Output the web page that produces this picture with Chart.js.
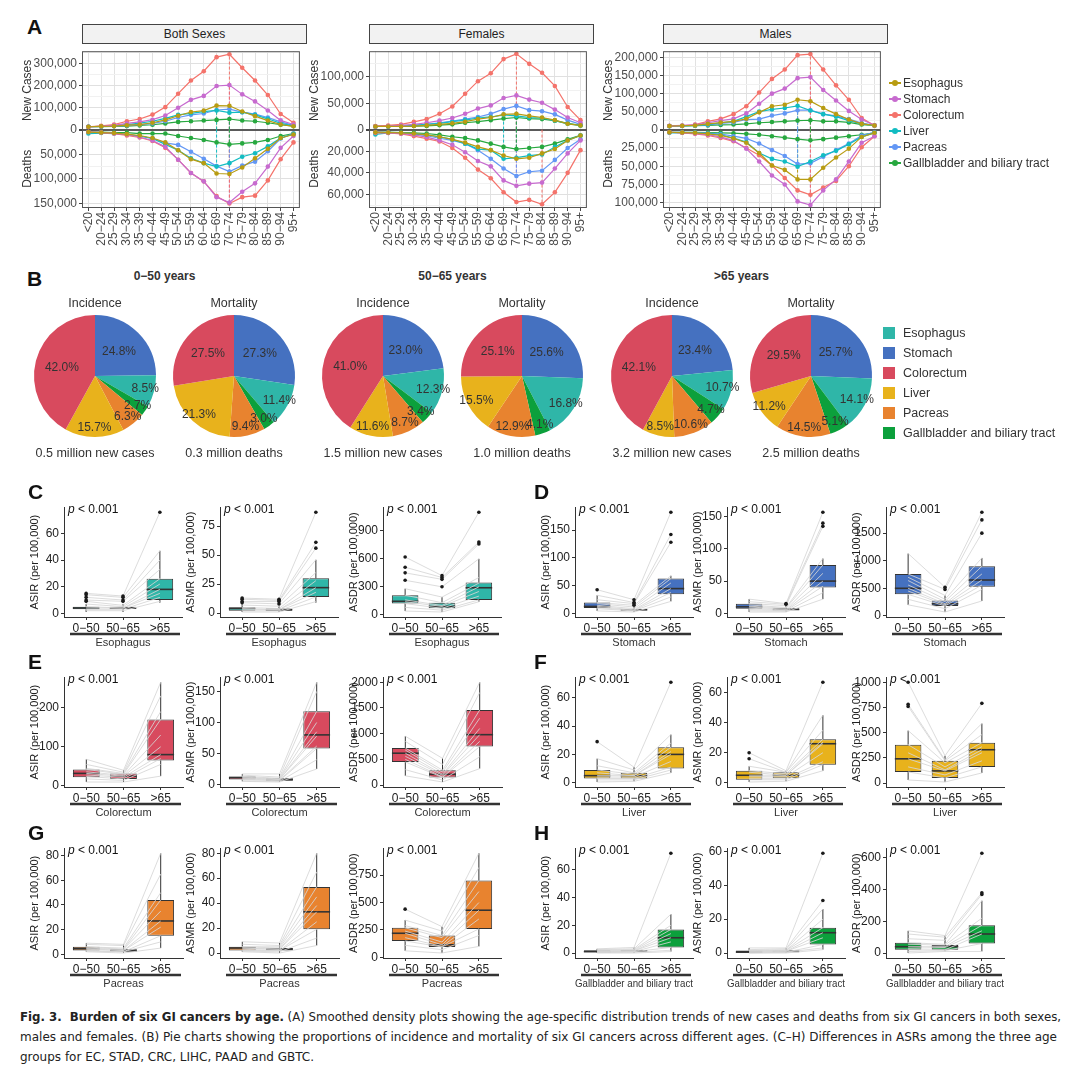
<!DOCTYPE html>
<html><head><meta charset="utf-8">
<script src="https://cdn.jsdelivr.net/npm/chart.js@4.4.1/dist/chart.umd.min.js"></script>
<style>
body{margin:0;background:#fff;font-family:'Liberation Sans',Arial,sans-serif;color:#222;}
#page{position:relative;width:1080px;height:1075px;overflow:hidden;background:#fff;}
.abs{position:absolute;white-space:nowrap;}
canvas{position:absolute;}
.lab{position:absolute;font-weight:bold;font-size:21px;line-height:21px;color:#111;}
.strip{position:absolute;box-sizing:border-box;border:1px solid #444;background:#f2f2f2;font-size:12px;text-align:center;line-height:18px;color:#222;}
.ctr{position:absolute;text-align:center;width:200px;font-size:12px;line-height:14px;color:#333;white-space:nowrap;}
.cap{position:absolute;left:20px;white-space:nowrap;font-family:'Liberation Sans Narrow','DejaVu Sans Condensed','Liberation Sans',sans-serif;font-stretch:condensed;font-size:13px;line-height:19px;color:#222;transform-origin:0 0;}
</style></head>
<body><div id="page"></div>
<script>
// ---------------- DATA ----------------
const ageGroups = ['<20','20−24','25−29','30−34','35−39','40−44','45−49','50−54','55−59','60−64','65−69','70−74','75−79','80−84','85−89','90−94','95+'];
const cancers = ['Esophagus','Stomach','Colorectum','Liver','Pacreas','Gallbladder and biliary tract'];
const lineColors = ['#B89C12','#C76BCF','#F4736B','#12BCC2','#6397F5','#27A83F'];
const fillColors = ['#2FB6A8','#4571C0','#D84A5E','#E8B21C','#E8832F','#0CA03C'];

// Panel A (thousands), order = cancers
const bothNewCases = [
 [13,15,16,20,23,31,44,63,80,86,109,108,82,61,41,23,15],
 [13,15,19,28,35,45,64,99,135,153,198,202,160,128,87,42,23],
 [12,17,23,38,48,68,102,163,223,265,329,342,281,223,157,71,31],
 [13,15,17,23,29,38,51,67,74,82,87,77,79,67,49,28,17],
 [13,15,16,19,23,28,38,55,67,73,89,93,79,70,55,35,19],
 [13,13,15,16,19,22,28,35,38,41,44,48,41,38,31,22,16]];
const bothDeaths = [
 [5,6,7,9,12,17,26,42,60,68,89,90,77,58,39,17,10],
 [5,6,8,10,15,22,35,61,88,105,137,148,126,109,75,37,13],
 [5,6,8,12,16,23,37,61,88,105,135,150,137,134,103,60,26],
 [8,7,8,10,13,18,30,42,58,68,75,68,55,48,34,17,9],
 [5,6,7,10,13,18,27,31,45,59,74,85,73,65,44,18,8],
 [5,5,6,6,8,8,8,13,17,21,26,30,28,26,21,13,8]];
const femaleNewCases = [
 [6,6,6,6.7,8,10,12,15,20,23,29,30,26,23,18,11,8],
 [6,6.7,8,10,13,17,22,30,40,46,60,65,57,51,38,23,13],
 [6.7,7.9,9.8,14.6,20,30,44,68,92,107,134,144,125,108,83,43,18],
 [6,6,6.7,8,10,12,15,18,22,24,28,26,23,22,17,11,8],
 [6,6,6.7,8,10,13,16,20,24,30,39,45,37,35,29,18,10],
 [6,6,6,6.7,7,8.5,10,13,15,18,21,23,21,20,17,12,8]];
const femaleDeaths = [
 [2.4,2.7,3,3.6,4.8,6.6,9,12,16,19,24,27,26,22,18,10,5.4],
 [2.4,3,3.6,4.8,6.9,10,14,21,29,34,47,52,50,49,36,22,10],
 [3,3,3.9,6,8.4,11,17,26,37,45,58,67,65,69,58,40,19],
 [4.5,3,3.3,3.9,4.8,6.6,9,13,18,19,27,26,24,23,16,10,5.4],
 [2.4,2.7,3.3,4.2,5.7,8,10,13,19,27,36,43,39,38,28,17,9],
 [2.4,2.4,2.7,3,3.6,4.8,6.6,7.8,10,13,16,18,17,16,13,9,5.4]];
const maleNewCases = [
 [10,10.7,11.5,16,19.5,23,30,48,65,69,83,79,60,43,28,16,11.5],
 [10.7,11.5,13,19,25,30,45,72,100,114,143,146,110,81,52,28,12],
 [9.8,10.7,14,23,30,43,65,103,141,167,207,210,167,123,83,32,11.5],
 [9,10,11.5,14,19,23,36,50,56,60,66,53,43,36,25,16,11.5],
 [10,10.7,11.5,13,17,20,28,29,39,45,54,54,43,38,29,18,11.5],
 [10,10,10.7,11.5,13,14,16,19,21,23,25,26,23,23,20,14,11.5]];
const maleDeaths = [
 [3.6,4,4.4,5.8,8,12,18,32,49,55,68,68,52,38,26,10,4.4],
 [3.6,4.4,5.3,7,10,15,26,43.5,62.6,75,98,103,83,68,43.5,18,9],
 [3.6,4.4,5.8,8,11.5,16,25,35,49,66,83,89,79,70,50,24,9],
 [4.4,4,4.4,5.3,7,11.5,17,32,40,43.5,50.6,43.5,35,29,20,10,4.4],
 [3.6,3.6,4,4.9,6,9,12,19,28,36,47,46,37,28,19,8,3.6],
 [3.6,3.6,3.6,4,4.4,4.9,5.8,7,9,11,13,14.6,13,11,9,7,4.4]];

// Panel B (percent), order = cancers
const pieGroups = ['0−50 years','50−65 years','>65 years'];
const incidenceShares = [[8.5,24.8,42.0,15.7,6.3,2.7],[12.3,23.0,41.0,11.6,8.7,3.4],[10.7,23.4,42.1,8.5,10.6,4.7]];
const mortalityShares = [[11.4,27.3,27.5,21.3,9.4,3.0],[16.8,25.6,25.1,15.5,12.9,4.1],[14.1,25.7,29.5,11.2,14.5,5.1]];
const incidenceTotals = ['0.5 million new cases','1.5 million new cases','3.2 million new cases'];
const mortalityTotals = ['0.3 million deaths','1.0 million deaths','2.5 million deaths'];
const pieSliceOrder = [1,0,5,4,3,2]; // clockwise from 12 o'clock

// Panels C-H: measures, box stats [min,q1,median,q3,max] per age group
const ageBands = ['0−50','50−65','>65'];
const measures = ['ASIR','ASMR','ASDR'];
const esophagusBox = [
 [[1,3,4,5,7],[1,3.5,4,5,7],[8,10,18,26,47]],
 [[1,2,4,5,8],[1,2,3,4,6],[9,14,22,30,46]],
 [[40,120,145,210,280],[30,70,90,130,190],[140,160,290,345,600]]];
const esophagusOutliers = [[[9,10,12,14,15],[9,10,12,13],[76]],[[9,10,12,13],[8,10,11,12],[56,61,87]],[[370,450,510,620],[300,380,400,420],[760,780,1100]]];
const esophagusPairs = [
 [[15,13,76],[14,12,47],[12,10,40],[10,9,33],[9,6,26],[7,5,22],[5,4,18],[4,4,15],[3,3,12],[2,2,9]],
 [[13,12,87],[12,11,61],[10,10,56],[9,8,46],[7,6,35],[5,4,28],[4,3,22],[3,3,18],[2,2,14],[1,1,10]],
 [[620,420,1100],[510,400,780],[450,380,760],[370,300,600],[280,190,400],[210,130,340],[160,100,300],[140,90,250],[120,70,200],[80,50,160],[40,30,140]]];
const esophagusSteps = [20,25,300];

const stomachBox = [
 [[5,10,13,20,33],[3,6,7,8,12],[22,35,45,63,68]],
 [[2,7,10,15,22],[2,5,6,8,12],[22,40,50,75,85]],
 [[200,390,500,760,1130],[70,180,220,280,370],[270,530,650,900,1050]]];
const stomachOutliers = [[[43],[15,18,20,25],[128,142,182]],[[],[14,15],[135,140,157]],[[],[480,520],[1500,1740,1880]]];
const stomachPairs = [
 [[43,25,182],[33,20,142],[25,18,128],[20,15,68],[18,12,63],[15,9,55],[13,7,45],[11,6,38],[9,5,30],[5,3,22]],
 [[22,15,157],[18,14,140],[15,12,135],[13,9,85],[11,8,75],[10,6,62],[8,5,50],[6,4,42],[4,3,32],[2,2,22]],
 [[1130,520,1880],[760,480,1740],[700,370,1500],[640,300,1050],[560,260,900],[500,220,760],[450,200,650],[390,180,560],[300,130,480],[200,70,270]]];
const stomachSteps = [50,50,500];

const colorectumBox = [
 [[10,22,32,42,68],[10,18,25,32,40],[25,65,80,170,265]],
 [[5,8,11,13,17],[4,6,8,10,17],[25,58,80,118,165]],
 [[180,450,620,720,950],[60,150,210,290,520],[320,750,980,1460,2000]]];
const colorectumOutliers = [[[],[],[]],[[],[],[]],[[],[],[]]];
const colorectumPairs = [
 [[68,40,265],[55,35,230],[45,32,190],[42,30,170],[36,27,130],[32,25,100],[28,22,80],[24,18,70],[18,14,55],[10,10,25]],
 [[17,17,165],[15,12,150],[13,10,118],[12,9,100],[11,8,85],[10,8,78],[9,7,62],[8,6,58],[6,5,40],[5,4,25]],
 [[950,520,2000],[850,400,1800],[720,290,1460],[680,250,1300],[620,210,1100],[560,190,980],[500,160,850],[450,150,750],[300,100,550],[180,60,320]]];
const colorectumSteps = [100,50,500];

const liverBox = [
 [[0.5,3,5,9,17],[1,3,5,7,11],[7,10,20,25,34]],
 [[0.5,2,5,8,11],[1,3,5,7,8],[8,12,26,29,45]],
 [[30,110,240,380,520],[10,50,120,220,270],[100,160,330,400,590]]];
const liverOutliers = [[[29],[],[71]],[[16,20],[],[67]],[[760,780,1000],[],[790]]];
const liverPairs = [
 [[29,11,71],[17,9,34],[12,7,28],[9,6,25],[7,5,22],[5,5,20],[4,4,15],[3,3,11],[2,2,9],[0.5,1,7]],
 [[20,8,67],[16,7,45],[11,7,35],[8,6,29],[7,5,27],[5,5,26],[4,4,20],[3,3,14],[2,2,12],[0.5,1,8]],
 [[1000,270,790],[780,230,590],[760,220,480],[520,200,400],[380,160,360],[300,130,330],[240,120,300],[160,80,220],[110,50,160],[30,10,100]]];
const liverSteps = [20,20,250];

const pancreasBox = [
 [[2,3,4.5,6,9],[1,2,3,4,8],[5,15,27,44,82]],
 [[1,2,4,5,9],[0,2,3,4,8],[6,19,33,53,80]],
 [[60,150,220,270,340],[40,95,115,200,280],[100,260,430,700,950]]];
const pancreasOutliers = [[[],[],[]],[[],[],[]],[[440],[],[]]];
const pancreasPairs = [
 [[9,8,82],[8,7,65],[6,5,50],[6,4,44],[5,4,35],[4.5,3,27],[4,3,22],[3,2,15],[2.5,2,10],[2,1,5]],
 [[9,8,80],[7,6,65],[5,5,53],[5,4,45],[4,3,38],[4,3,33],[3,2,25],[2,2,19],[1.5,1,12],[1,0,6]],
 [[440,280,950],[340,240,820],[290,200,700],[270,180,600],[240,140,500],[220,115,430],[180,100,350],[150,95,260],[110,70,200],[60,40,100]]];
const pancreasSteps = [20,20,250];

const gallbladderBox = [
 [[0,0.5,1,2,3],[0,1,1.5,2,4],[1,4,11,17,28]],
 [[0,0,0.5,1.5,3],[0,0.5,1,1.5,3],[2,5,12,15,26]],
 [[0,20,40,65,140],[10,20,40,50,110],[10,60,120,175,330]]];
const gallbladderOutliers = [[[],[],[72]],[[],[],[31,59]],[[],[],[370,380,630]]];
const gallbladderPairs = [
 [[3,4,72],[2.5,3,28],[2,2.5,20],[2,2,17],[1.5,1.5,14],[1,1.5,11],[1,1,8],[0.5,1,4],[0.3,0.5,2],[0,0,1]],
 [[3,3,59],[2,2.5,31],[1.5,2,26],[1.5,1.5,20],[1,1.5,15],[1,1,12],[0.5,1,9],[0.5,0.5,5],[0,0.5,3],[0,0,2]],
 [[140,110,630],[120,100,380],[90,80,370],[65,55,330],[55,50,220],[40,40,175],[30,35,140],[20,20,120],[10,15,60],[0,10,10]]];
const gallbladderSteps = [20,20,200];

// ---------------- SETUP ----------------
const FONT = "'Liberation Sans', Arial, sans-serif";
Chart.defaults.font.family = FONT;
Chart.defaults.animation = false;
Chart.defaults.responsive = false;
Chart.defaults.plugins.legend.display = false;
Chart.defaults.plugins.tooltip.enabled = false;

const page = document.getElementById('page');
function addCanvas(left, top, w, h){
  const c = document.createElement('canvas');
  c.width = w; c.height = h;
  c.style.left = left+'px'; c.style.top = top+'px';
  c.style.width = w+'px'; c.style.height = h+'px';
  page.appendChild(c); return c;
}
function addDiv(cls, html, left, top, style){
  const d = document.createElement('div');
  d.className = cls; d.innerHTML = html;
  d.style.left = left+'px'; d.style.top = top+'px';
  if (style) Object.assign(d.style, style);
  page.appendChild(d); return d;
}
function fmt(v){ return (Math.round(v) + 0).toLocaleString('en-US'); }
function stepTicks(min, max, step){
  const out = [];
  for (let k = Math.ceil(min/step - 1e-9); k*step <= max + 1e-9; k++) out.push({value: (k*step) || 0});
  return out;
}

// ---------------- PANEL A ----------------
addDiv('lab','A',27,16);
function linePanel(title, plotLeft, cases, deaths, cfg){
  addDiv('strip', title, plotLeft, 24, {width:'225px', height:'20px'});
  const W = 62, plotW = 224;
  const cv = addCanvas(plotLeft - W, 42, W + plotW + 3, 210);
  const datasets = [];
  cancers.forEach((n,i)=>{
    const common = {label:n, borderColor:lineColors[i], backgroundColor:lineColors[i], borderWidth:1.2,
      pointRadius:2.3, pointBorderWidth:0, pointBackgroundColor:lineColors[i], tension:0, clip:false};
    datasets.push(Object.assign({data:cases[i].map(v=>v*1000), yAxisID:'yc'}, common));
    datasets.push(Object.assign({data:deaths[i].map(v=>v*1000), yAxisID:'yd'}, common));
  });
  const peakPlugin = {
    id:'peaks',
    beforeDatasetsDraw(chart){
      const ctx = chart.ctx, xs = chart.scales.x;
      ctx.save(); ctx.setLineDash([3,2]); ctx.lineWidth = 1;
      chart.data.datasets.forEach(ds=>{
        const ys = chart.scales[ds.yAxisID];
        let k = 0; ds.data.forEach((v,j)=>{ if (v > ds.data[k]) k = j; });
        ctx.strokeStyle = ds.borderColor;
        ctx.beginPath();
        ctx.moveTo(xs.getPixelForValue(k), ys.getPixelForValue(0));
        ctx.lineTo(xs.getPixelForValue(k), ys.getPixelForValue(ds.data[k]));
        ctx.stroke();
      });
      ctx.restore();
    },
    afterDraw(chart){
      const a = chart.chartArea, ctx = chart.ctx;
      ctx.save(); ctx.strokeStyle = '#555'; ctx.lineWidth = 1;
      ctx.strokeRect(a.left+0.5, a.top+0.5, a.right-a.left-1, a.bottom-a.top-1);
      ctx.restore();
    }
  };
  const isMajor = (v, labelStep) => Math.abs(v/labelStep - Math.round(v/labelStep)) < 1e-6;
  const yAxis = (max, step, labelStep, isDeaths, ttl) => ({
    type:'linear', position:'left', stack:'st', stackWeight:1, min:0, max:max, reverse:isDeaths,
    border:{display:false},
    afterBuildTicks: s => { s.ticks = stepTicks(0, max, step); },
    grid:{
      color: c => (c.tick && c.tick.value === 0) ? '#5a5a5a' : ((c.tick && isMajor(c.tick.value,labelStep)) ? '#e0e0e0' : '#f1f1f1'),
      lineWidth: c => (c.tick && c.tick.value === 0) ? 2 : 1,
      tickColor: c => (c.tick && isMajor(c.tick.value,labelStep) && !(isDeaths && c.tick.value===0)) ? '#444' : 'rgba(0,0,0,0)',
      tickLength:3, drawTicks:true
    },
    ticks:{autoSkip:false, color:'#4d4d4d', font:{size:12}, padding:2,
      callback: v => (isDeaths && v === 0) ? '' : (isMajor(v,labelStep) ? fmt(v) : '')},
    title:{display:true, text:ttl, color:'#333', font:{size:12}, padding:{top:0,bottom:0}},
    afterFit: s => { s.width = W; }
  });
  new Chart(cv, {
    type:'line',
    data:{labels:ageGroups, datasets},
    options:{
      layout:{padding:{top:1,right:3,left:0,bottom:0}},
      scales:{
        x:{type:'category', offset:true, border:{display:false},
          grid:{color:'#e2e2e2', tickColor:'#444', tickLength:3, drawTicks:true},
          ticks:{minRotation:90, maxRotation:90, autoSkip:false, color:'#4d4d4d', font:{size:12}, padding:1},
          afterFit: s => { s.height = 44; }},
        yd: yAxis(cfg.dMax, cfg.dStep, cfg.dLabel, true, 'Deaths'),
        yc: yAxis(cfg.cMax, cfg.cStep, cfg.cLabel, false, 'New Cases')
      }
    },
    plugins:[peakPlugin]
  });
}
linePanel('Both Sexes', 82, bothNewCases, bothDeaths, {cMax:356000,cStep:50000,cLabel:100000,dMax:159000,dStep:25000,dLabel:50000});
linePanel('Females', 369, femaleNewCases, femaleDeaths, {cMax:149000,cStep:25000,cLabel:50000,dMax:72500,dStep:10000,dLabel:20000});
linePanel('Males', 663, maleNewCases, maleDeaths, {cMax:218000,cStep:25000,cLabel:50000,dMax:107000,dStep:12500,dLabel:25000});

// legend A
cancers.forEach((n,i)=>{
  const y = 75 + i*16;
  addDiv('abs','',889,y+7,{width:'12px',height:'1.5px',background:lineColors[i]});
  addDiv('abs','',892,y+5,{width:'6px',height:'6px',borderRadius:'50%',background:lineColors[i]});
  addDiv('abs',n,903,y,{fontSize:'12px',lineHeight:'16px',color:'#333'});
});

// ---------------- PANEL B ----------------
addDiv('lab','B',27,268);
const pieCenters = [[95,234],[383,522],[672,811]];
const PIE_CY = 376;
const pieLabelPlugin = {
  id:'pielabels',
  afterDatasetsDraw(chart){
    const meta = chart.getDatasetMeta(0), ctx = chart.ctx, vals = chart.data.datasets[0].data;
    ctx.save(); ctx.font = '12px '+FONT; ctx.fillStyle = '#333'; ctx.textAlign = 'center'; ctx.textBaseline = 'middle';
    meta.data.forEach((arc,i)=>{
      const p = arc.getProps(['x','y','startAngle','endAngle','outerRadius'], true);
      const a = (p.startAngle + p.endAngle)/2;
      const f = vals[i] >= 22 ? 0.56 : 0.85;
      ctx.fillText(vals[i].toFixed(1)+'%', p.x + Math.cos(a)*p.outerRadius*f, p.y + Math.sin(a)*p.outerRadius*f);
    });
    ctx.restore();
  }
};
function drawPie(cx, shares, title, total){
  const S = 172, pad = (S - 122)/2;
  const cv = addCanvas(cx - S/2, PIE_CY - S/2, S, S);
  new Chart(cv, {
    type:'pie',
    data:{labels:pieSliceOrder.map(k=>cancers[k]),
      datasets:[{data:pieSliceOrder.map(k=>shares[k]), backgroundColor:pieSliceOrder.map(k=>fillColors[k]), borderWidth:0}]},
    options:{layout:{padding:pad}},
    plugins:[pieLabelPlugin]
  });
  addDiv('ctr', title, cx-100, 296, {fontSize:'12.5px'});
  addDiv('ctr', total, cx-100, 446, {fontSize:'12.5px'});
}
pieGroups.forEach((g,k)=>{
  const [c1,c2] = pieCenters[k];
  addDiv('ctr', g, (c1+c2)/2-100, 269, {fontWeight:'bold', fontSize:'12px'});
  drawPie(c1, incidenceShares[k], 'Incidence', incidenceTotals[k]);
  drawPie(c2, mortalityShares[k], 'Mortality', mortalityTotals[k]);
});
cancers.forEach((n,i)=>{
  addDiv('abs','',883,327+i*20,{width:'12px',height:'12px',background:fillColors[i]});
  addDiv('abs',n,903,323+i*20,{fontSize:'12.5px',lineHeight:'20px',color:'#333'});
});

// ---------------- PANELS C-H ----------------
const boxSets = [
  {letter:'C', box:esophagusBox, out:esophagusOutliers, pairs:esophagusPairs, steps:esophagusSteps},
  {letter:'D', box:stomachBox, out:stomachOutliers, pairs:stomachPairs, steps:stomachSteps},
  {letter:'E', box:colorectumBox, out:colorectumOutliers, pairs:colorectumPairs, steps:colorectumSteps},
  {letter:'F', box:liverBox, out:liverOutliers, pairs:liverPairs, steps:liverSteps},
  {letter:'G', box:pancreasBox, out:pancreasOutliers, pairs:pancreasPairs, steps:pancreasSteps},
  {letter:'H', box:gallbladderBox, out:gallbladderOutliers, pairs:gallbladderPairs, steps:gallbladderSteps}];
const axisXs = [64,220,383,575,727,886];
const rowTops = [505,675,846];
const AXW = 36, PW = 119, AREA_H = 112;

function boxChart(axisX, top, cancerIdx, m, set){
  const stats = set.box[m], outs = set.out[m], pairs = set.pairs[m];
  const all = [].concat(...stats, ...outs, ...pairs);
  const lo = Math.min(...all), hi = Math.max(...all), pad = (hi-lo)*0.05;
  const step = set.steps[m];
  const cv = addCanvas(axisX - AXW, top - 7, AXW + PW + 3, 7 + AREA_H + 36);
  const datasets = [];
  datasets.push({type:'bar', data:stats.map((s,g)=>({x:g+1, y:[s[1], s[3]]})),
    backgroundColor:fillColors[cancerIdx], borderColor:'#333', borderWidth:1, borderSkipped:false,
    barPercentage:0.72, categoryPercentage:1, order:10});
  pairs.forEach(p=>datasets.push({type:'line', data:p.map((v,g)=>({x:g+1,y:v})),
    borderColor:'rgba(214,214,214,0.85)', borderWidth:1, pointRadius:0, order:5}));
  const od = [];
  outs.forEach((arr,g)=>arr.forEach(v=>od.push({x:g+1,y:v})));
  datasets.push({type:'line', showLine:false, data:od, pointRadius:1.8, pointBorderWidth:0,
    pointBackgroundColor:'#1a1a1a', backgroundColor:'#1a1a1a', order:1});
  const plug = {
    id:'boxw',
    afterDatasetDraw(chart, args){
      if (args.index !== 0) return;
      const ctx = chart.ctx, xs = chart.scales.x, ys = chart.scales.y, meta = chart.getDatasetMeta(0);
      ctx.save(); ctx.strokeStyle = '#333';
      stats.forEach((s,g)=>{
        const x = xs.getPixelForValue(g+1), w = meta.data[g].width;
        ctx.lineWidth = 1; ctx.beginPath();
        ctx.moveTo(x, ys.getPixelForValue(s[0])); ctx.lineTo(x, ys.getPixelForValue(s[1]));
        ctx.moveTo(x, ys.getPixelForValue(s[3])); ctx.lineTo(x, ys.getPixelForValue(s[4]));
        ctx.stroke();
        ctx.lineWidth = 1.6; ctx.beginPath();
        const ym = ys.getPixelForValue(s[2]);
        ctx.moveTo(x - w/2, ym); ctx.lineTo(x + w/2, ym); ctx.stroke();
      });
      ctx.restore();
    },
    afterDraw(chart){
      const ctx = chart.ctx, a = chart.chartArea;
      ctx.save(); ctx.fillStyle = '#111'; ctx.textBaseline = 'middle'; ctx.textAlign = 'left';
      ctx.font = 'italic 12px '+FONT; ctx.fillText('p', a.left+4, a.top+2);
      const pw = ctx.measureText('p').width;
      ctx.font = '12px '+FONT; ctx.fillText(' < 0.001', a.left+4+pw, a.top+2);
      ctx.strokeStyle = '#333'; ctx.lineWidth = 2.5; ctx.beginPath();
      ctx.moveTo(a.left+6, a.bottom+17); ctx.lineTo(a.right-2, a.bottom+17); ctx.stroke();
      ctx.restore();
    }
  };
  new Chart(cv, {
    type:'bar',
    data:{datasets},
    options:{
      layout:{padding:{top:7,right:3,left:0,bottom:0}},
      scales:{
        x:{type:'linear', min:0.4, max:3.6, offset:false,
          grid:{display:true, offset:false, drawOnChartArea:false, drawTicks:true, tickLength:3, color:'#333', tickColor:'#333'},
          border:{display:true, color:'#333', width:1},
          afterBuildTicks: s => { s.ticks = [{value:1},{value:2},{value:3}]; },
          ticks:{autoSkip:false, maxRotation:0, color:'#222', font:{size:12}, padding:1, callback: v => ageBands[v-1]},
          title:{display:true, text:cancers[cancerIdx], color:'#333', font:{size:11}, padding:{top:0,bottom:3}},
          afterFit: s => { s.height = 36; }},
        y:{type:'linear', min:lo-pad, max:hi+pad, beginAtZero:false,
          grid:{display:true, drawOnChartArea:false, drawTicks:true, tickLength:3, color:'#333', tickColor:'#333'},
          border:{display:true, color:'#333', width:1},
          afterBuildTicks: s => { s.ticks = stepTicks(lo-pad, hi+pad, step); },
          ticks:{autoSkip:false, color:'#222', font:{size:12}, padding:2, callback: v => String(Math.round(v))},
          title:{display:true, text:measures[m]+' (per 100,000)', color:'#222', font:{size:11}, padding:{top:0,bottom:0}},
          afterFit: s => { s.width = AXW; }}
      }
    },
    plugins:[plug]
  });
}
boxSets.forEach((set,ci)=>{
  const row = Math.floor(ci/2), colBase = (ci%2)*3;
  const top = rowTops[row];
  addDiv('lab', set.letter, ci%2 ? 534 : 28, top-24);
  for (let m=0;m<3;m++) boxChart(axisXs[colBase+m], top, ci, m, set);
});

// ---------------- CAPTION ----------------
const capLines = [
  '<b>Fig. 3.&nbsp; Burden of six GI cancers by age.</b> (A) Smoothed density plots showing the age-specific distribution trends of new cases and deaths from six GI cancers in both sexes,',
  'males and females. (B) Pie charts showing the proportions of incidence and mortality of six GI cancers across different ages. (C–H) Differences in ASRs among the three age',
  'groups for EC, STAD, CRC, LIHC, PAAD and GBTC.'];
const capTargets = [1041, 1037, null];
let lastScale = 1;
capLines.forEach((t,i)=>{
  const d = addDiv('cap', t, 20, 1007 + i*20);
  const w = d.getBoundingClientRect().width;
  const s = capTargets[i] ? capTargets[i]/w : lastScale;
  lastScale = s;
  d.style.transform = 'scaleX('+s+')';
});
</script></body></html>
